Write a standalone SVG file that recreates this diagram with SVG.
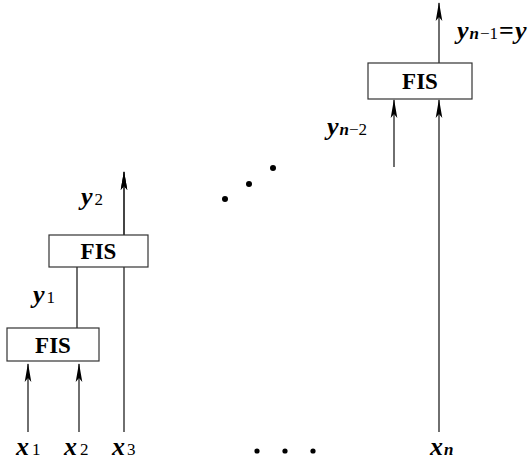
<svg xmlns="http://www.w3.org/2000/svg" width="532" height="461" viewBox="0 0 532 461">
<style>
.box{fill:#fff;stroke:#333;stroke-width:1.2}
.fis{font-size:23px;font-weight:bold;text-anchor:middle;fill:#000}
.v{font-size:26px;font-style:italic;font-weight:bold;fill:#000}
.s{font-size:17px;font-style:normal;font-weight:normal}
.n{font-style:italic;font-weight:bold}
.ln{stroke:#333;stroke-width:1.4;fill:none;marker-end:url(#ah)}
</style>
<defs>
<marker id="ah" markerWidth="19" markerHeight="8" refX="18" refY="4" orient="auto" markerUnits="userSpaceOnUse" viewBox="0 0 19 8">
<path d="M19 4 L0 0.7 L4 4 L0 7.3 Z" fill="#000"/>
</marker>
</defs>
<g id="connectors">
<line class="ln" x1="28" y1="432" x2="28" y2="364"/>
<line class="ln" x1="79" y1="432" x2="79" y2="364"/>
<line class="ln" x1="124" y1="432" x2="124" y2="172"/>
<line x1="77" y1="328" x2="77" y2="267" stroke="#333" stroke-width="1.4"/>
<line class="ln" x1="124" y1="235" x2="124" y2="172"/>
<line class="ln" x1="394" y1="167" x2="394" y2="100"/>
<line class="ln" x1="439" y1="432" x2="439" y2="100"/>
<line class="ln" x1="439" y1="63" x2="439" y2="3"/>
</g>
<g id="fis1"><rect class="box" x="7" y="328" width="92" height="33"/><text class="fis" font-family="Liberation Serif, serif" x="53" y="353">FIS</text></g>
<g id="fis2"><rect class="box" x="49" y="235" width="99" height="32"/><text class="fis" font-family="Liberation Serif, serif" x="98.5" y="259">FIS</text></g>
<g id="fis3"><rect class="box" x="368" y="63" width="104" height="36"/><text class="fis" font-family="Liberation Serif, serif" x="420" y="89">FIS</text></g>
<g id="labels" font-family="Liberation Serif, serif">
<text class="v" font-family="Liberation Serif, serif" x="33" y="303">y<tspan class="s" dx="2">1</tspan></text>
<text class="v" font-family="Liberation Serif, serif" x="81" y="205">y<tspan class="s" dx="2">2</tspan></text>
<text class="v" font-family="Liberation Serif, serif" x="327" y="135">y<tspan class="s n" dx="1">n</tspan><tspan class="s" font-weight="bold">−2</tspan></text>
<text class="v" font-family="Liberation Serif, serif" x="457" y="39">y<tspan class="s n" dx="1">n</tspan><tspan class="s" dx="1">−1</tspan><tspan font-weight="bold" font-style="normal" dx="1">=</tspan><tspan dx="1">y</tspan></text>
<text class="v" font-family="Liberation Serif, serif" x="16" y="455">x<tspan class="s" dx="3">1</tspan></text>
<text class="v" font-family="Liberation Serif, serif" x="64" y="455">x<tspan class="s" dx="3">2</tspan></text>
<text class="v" font-family="Liberation Serif, serif" x="112" y="455">x<tspan class="s" dx="2">3</tspan></text>
<text class="v" font-family="Liberation Serif, serif" x="430" y="455">x<tspan class="s n" dx="1">n</tspan></text>
</g>
<g id="dots" fill="#000">
<circle cx="225" cy="199" r="3"/><circle cx="249" cy="184" r="3"/><circle cx="273" cy="168" r="3"/>
<circle cx="257" cy="451" r="2.6"/><circle cx="285" cy="451" r="2.6"/><circle cx="313" cy="451" r="2.6"/>
</g>
</svg>
